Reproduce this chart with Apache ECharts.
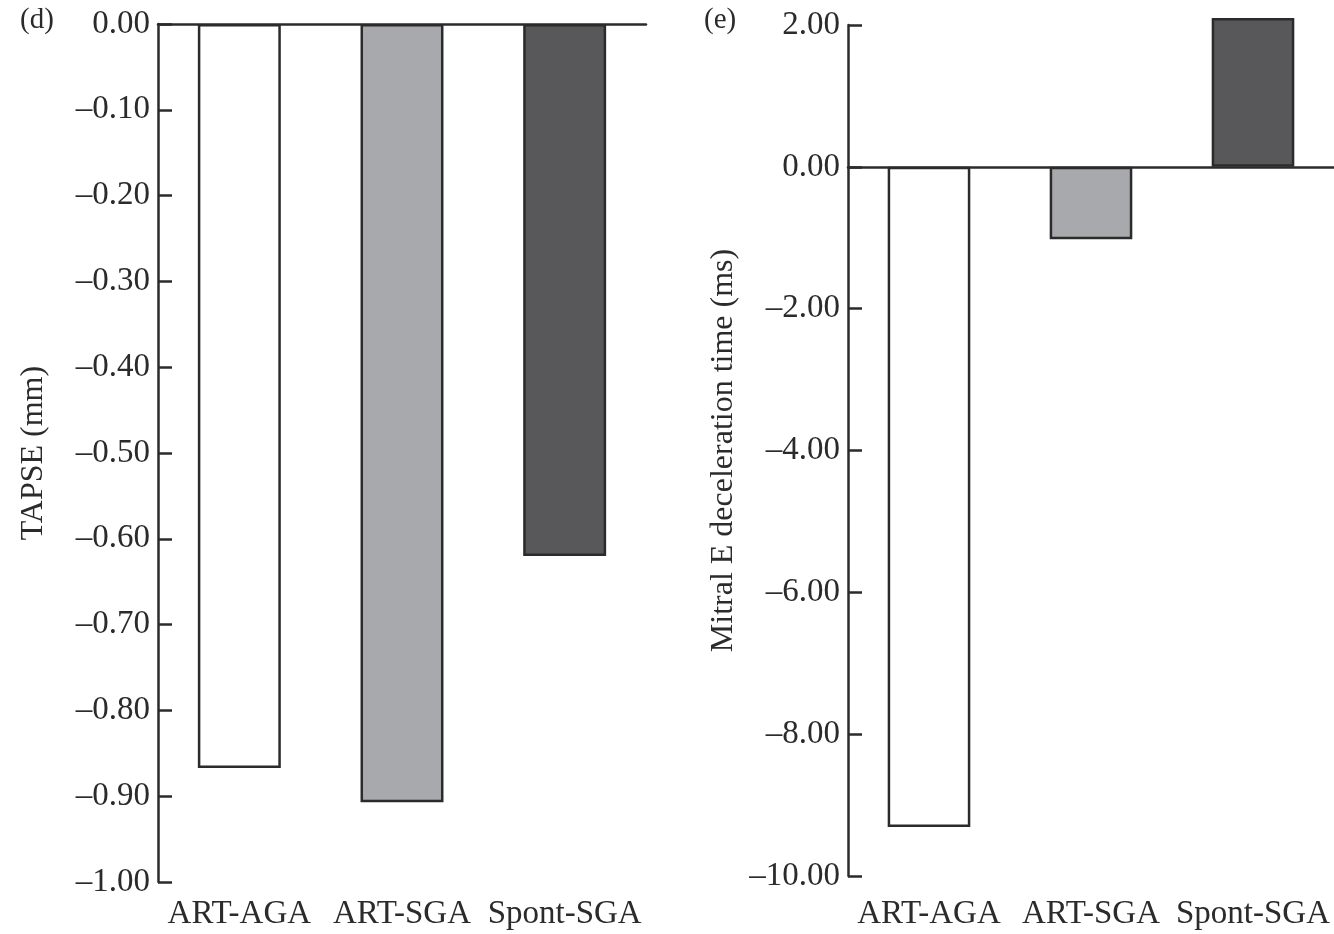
<!DOCTYPE html>
<html><head><meta charset="utf-8">
<script src="https://cdn.jsdelivr.net/npm/echarts@6/dist/echarts.min.js"></script>
<style>html,body{margin:0;padding:0;background:#fff}#c{width:1334px;height:934px}</style>
</head><body><div id="c"></div>
<script>
const categories = ['ART-AGA', 'ART-SGA', 'Spont-SGA'];
const tapseValues = [-0.867, -0.907, -0.620];
const mitralValues = [-9.31, -1.02, 2.10];
const barColors = ['#ffffff', '#a8a9ad', '#58585a'];
const leftTitle = 'TAPSE (mm)';
const rightTitle = 'Mitral E deceleration time (ms)';
const panelLabels = ['(d)', '(e)'];

const FONT = '"Liberation Serif", "DejaVu Serif", serif';
const INK = '#2b2b2b';
const fmt = v => (v < 0 ? '\u2013' : '') + Math.abs(v).toFixed(2);

const chart = echarts.init(document.getElementById('c'));

function yAxis(gi, min, max, interval, name) {
  return {
    type: 'value', gridIndex: gi, min, max, interval,
    name, nameLocation: 'middle', nameGap: 108,
    nameTextStyle: { fontFamily: FONT, fontSize: 32, color: INK },
    axisLine: { show: true, lineStyle: { color: INK, width: 2.5 } },
    axisTick: { show: true, inside: true, length: 14, lineStyle: { color: INK, width: 2.5 } },
    axisLabel: { fontFamily: FONT, fontSize: 33, color: INK, margin: 8, formatter: fmt },
    splitLine: { show: false }
  };
}
function xAxisLine(gi) {
  return {
    type: 'category', gridIndex: gi, data: categories,
    axisLine: { show: true, onZero: true, lineStyle: { color: INK, width: 2.5 } },
    axisTick: { show: false }, axisLabel: { show: false }
  };
}
function xAxisLabels(gi, margin) {
  return {
    type: 'category', gridIndex: gi, data: categories, position: 'bottom',
    axisLine: { show: false, onZero: false }, axisTick: { show: false },
    axisLabel: { fontFamily: FONT, fontSize: 33, color: INK, margin, interval: 0 }
  };
}
function bars(gi, vals) {
  return {
    type: 'bar', xAxisIndex: gi * 2, yAxisIndex: gi, barWidth: '51%', clip: false,
    data: vals.map((v, i) => ({ value: v, itemStyle: { color: barColors[i] } })),
    itemStyle: { borderColor: INK, borderWidth: 2.5 },
    silent: true, animation: false
  };
}

chart.setOption({
  animation: false,
  graphic: [
    { type: 'text', left: 20, top: 6, style: { text: panelLabels[0], font: '29px ' + FONT, fill: INK } },
    { type: 'text', left: 704, top: 6, style: { text: panelLabels[1], font: '29px ' + FONT, fill: INK } }
  ],
  grid: [
    { left: 158, top: 24, width: 488, height: 858 },
    { left: 848, top: 25, width: 486, height: 851 }
  ],
  xAxis: [xAxisLine(0), xAxisLabels(0, 16), xAxisLine(1), xAxisLabels(1, 22)],
  yAxis: [yAxis(0, -1, 0, 0.1, leftTitle), yAxis(1, -10, 2, 2, rightTitle)],
  series: [bars(0, tapseValues), bars(1, mitralValues)]
});
</script></body></html>
